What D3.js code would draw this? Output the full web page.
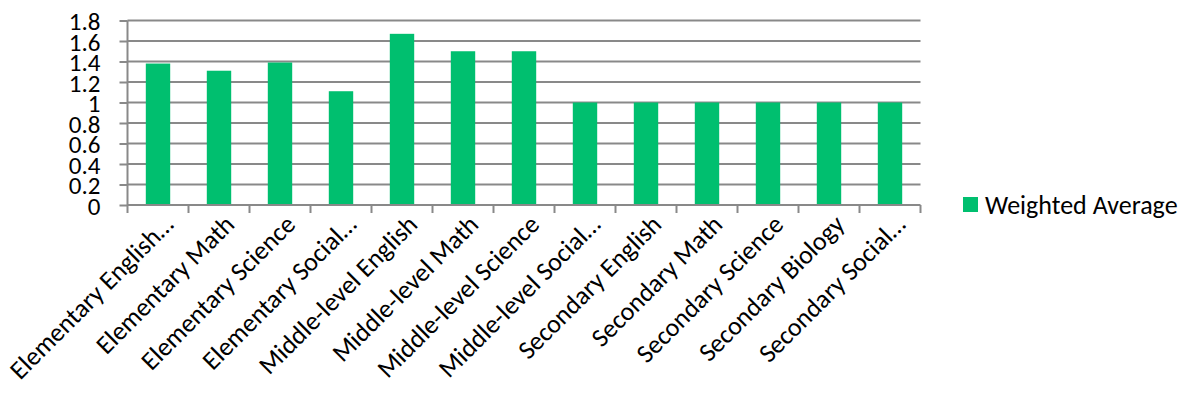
<!DOCTYPE html>
<html><head><meta charset="utf-8">
<script src="https://cdn.jsdelivr.net/npm/d3@7"></script>
<style>
html,body{margin:0;padding:0;background:#fff;}
svg text{font-family:Carlito,"Open Sans",sans-serif;fill:#000;}
</style></head>
<body>
<svg id="chart" width="1189" height="397"></svg>
<script>
const categories = ["Elementary English…","Elementary Math","Elementary Science","Elementary Social…","Middle-level English","Middle-level Math","Middle-level Science","Middle-level Social…","Secondary English","Secondary Math","Secondary Science","Secondary Biology","Secondary Social…"];
const weightedAverage = [1.38,1.31,1.39,1.11,1.67,1.5,1.5,1,1,1,1,1,1];
const yTicks = [0,0.2,0.4,0.6,0.8,1,1.2,1.4,1.6,1.8];
const seriesName = "Weighted Average";

(function(){
const svg = d3.select("#chart");
const mLeft = 127.5, mRight = 920.5, mTop = 20.5, mBottom = 205;
const x = d3.scaleBand().domain(categories).range([mLeft, mRight]).paddingInner(0.6).paddingOuter(0.3);
const xb = d3.scaleBand().domain(categories).range([mLeft, mRight]);
const y = d3.scaleLinear().domain([0,1.8]).range([mBottom, mTop]);
const grid = "#898989";

svg.append("g").selectAll("line").data(yTicks.filter(d=>d>0)).join("line")
  .attr("x1", mLeft).attr("x2", mRight)
  .attr("y1", d=>y(d)).attr("y2", d=>y(d))
  .attr("stroke", grid).attr("stroke-width", 2);

svg.append("g").selectAll("rect").data(weightedAverage).join("rect")
  .attr("x", (d,i)=>x(categories[i]))
  .attr("width", x.bandwidth())
  .attr("y", d=>y(d)).attr("height", d=>mBottom - y(d))
  .attr("fill", "#00BF6F");

const yAxis = d3.axisLeft(y).tickValues(yTicks).tickSize(8).tickPadding(19).tickFormat(d3.format("~g"));
const gy = svg.append("g").attr("transform", `translate(${mLeft},0)`).call(yAxis);
gy.select(".domain").attr("stroke", grid).attr("stroke-width", 2).attr("d", `M0,${mTop}V${mBottom}`);
gy.selectAll(".tick line").attr("stroke", grid).attr("stroke-width", 2);
gy.selectAll("text").attr("font-size", 25).attr("dy", "0.36em").style("font-family", "Carlito,'Open Sans',sans-serif");

const xAxis = d3.axisBottom(xb).tickSize(0).tickFormat("");
const gx = svg.append("g").attr("transform", `translate(0,${mBottom})`).call(xAxis);
gx.select(".domain").attr("stroke", grid).attr("stroke-width", 2).attr("d", `M${mLeft},0H${mRight}`);
const bounds = [mLeft].concat(categories.map(c=>xb(c)+xb.bandwidth()));
gx.append("g").selectAll("line").data(bounds).join("line")
  .attr("x1", d=>d).attr("x2", d=>d).attr("y1", 0).attr("y2", 8)
  .attr("stroke", grid).attr("stroke-width", 2);
gx.append("g").selectAll("text").data(categories).join("text")
  .attr("transform", d=>`translate(${xb(d)+xb.bandwidth()/2+17},${21}) rotate(-45)`)
  .attr("text-anchor", "end")
  .attr("font-size", 26)
  .text(d=>d);

const lg = svg.append("g").attr("transform", "translate(963,197)");
lg.append("rect").attr("width", 15).attr("height", 15).attr("fill", "#00BF6F");
lg.append("text").attr("x", 22).attr("y", 7.5).attr("dy", "0.36em").attr("font-size", 26).text(seriesName);
})();
</script>
</body></html>
